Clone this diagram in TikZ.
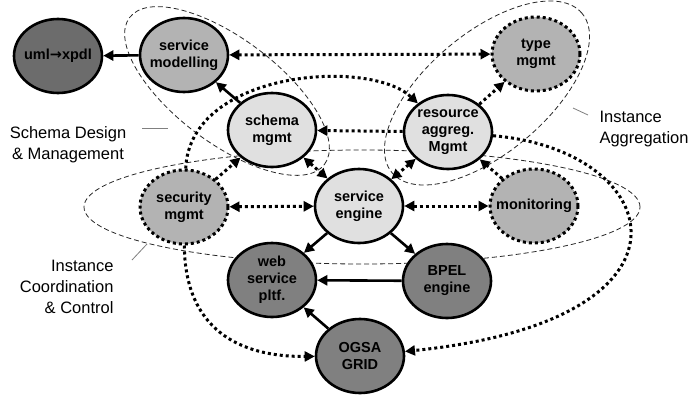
\documentclass[tikz,border=0pt]{standalone}
\usepackage{fontspec}
\setmainfont{Liberation Sans}
\newfontfamily\arrowfont{DejaVu Sans}
\usetikzlibrary{shapes.geometric,arrows.meta,backgrounds}
\definecolor{cDark}{HTML}{6C6C6C}
\definecolor{cMid}{HTML}{808080}
\definecolor{cLight}{HTML}{B3B3B3}
\definecolor{cPale}{HTML}{E0E0E0}
\begin{document}
\begin{tikzpicture}[x=1pt,y=-1pt,
  nd/.style={ellipse, minimum width=88pt, minimum height=74pt, inner xsep=-18pt, inner ysep=0pt,
    align=center, font=\fontsize{14.5}{17}\selectfont\bfseries},
  solidb/.style={nd, draw=black, line width=2.6pt},
  dotb/.style={nd, draw=black, line width=3pt, dash pattern=on 3pt off 3pt},
  sarr/.style={draw=black, line width=2.6pt, -{Triangle[length=10pt,width=10pt]}},
  darr/.style={draw=black, line width=3pt, dash pattern=on 3pt off 3pt, -{Triangle[length=10pt,width=10pt]}},
  ddarr/.style={draw=black, line width=3pt, dash pattern=on 3pt off 3pt, {Triangle[length=10pt,width=10pt]}-{Triangle[length=10pt,width=10pt]}},
  grp/.style={draw=black!85, line width=0.8pt, dash pattern=on 5pt off 3pt},
  lead/.style={draw=black!50, line width=0.8pt},
  lbl/.style={font=\fontsize{16.5}{21}\selectfont}
]
\useasboundingbox (0,0) rectangle (692,396);

% nodes
\node[solidb, fill=cDark]  (uml)    at (58,56)   {uml{\arrowfont\bfseries →}xpdl};
\node[solidb, fill=cLight] (sm)     at (184,55)  {service\\modelling};
\node[dotb,   fill=cLight] (type)   at (536,54)  {type\\mgmt};
\node[solidb, fill=cPale]  (schema) at (272,130) {schema\\mgmt};
\node[solidb, fill=cPale]  (res)    at (448,132) {resource\\aggreg.\\Mgmt};
\node[dotb,   fill=cLight] (sec)    at (184,207) {security\\mgmt};
\node[solidb, fill=cPale]  (eng)    at (359,206) {service\\engine};
\node[dotb,   fill=cLight] (mon)    at (534,206) {monitoring};
\node[solidb, fill=cMid]   (web)    at (272,280) {web\\service\\pltf.};
\node[solidb, fill=cMid]   (bpel)   at (447,281) {BPEL\\engine};
\node[solidb, fill=cMid]   (ogsa)   at (360,356) {OGSA\\GRID};

% labels
\node[lbl, align=center] (lsd) at (68,145) {Schema Design\\\& Management};
\node[lbl, align=left, anchor=west] (lia) at (596,129) {Instance\\Aggregation};
\node[lbl, align=right, anchor=east] (lic) at (117,287) {Instance\\Coordination\\\& Control};

% group outlines
\begin{scope}[on background layer]
  \fill[white] (0,0) rectangle (692,396);
  \draw[grp, rotate around={-37:(227,91)}] (227,91) ellipse [x radius=122pt, y radius=52pt];
  \draw[grp, rotate around={40:(487,93)}] (487,93) ellipse [x radius=124pt, y radius=60pt];
  \draw[grp] (362,207) ellipse [x radius=278pt, y radius=57pt];
\end{scope}

% leader lines
\coordinate (s1) at (142,128); \coordinate (s2) at (168,128);
\coordinate (a1) at (573,108); \coordinate (a2) at (588,115);
\coordinate (c1) at (132,260); \coordinate (c2) at (147,244);
\draw[lead] (s1) -- (s2);
\draw[lead] (a1) -- (a2);
\draw[lead] (c1) -- (c2);

% solid connectors
\draw[sarr] (sm) -- (uml);
\draw[sarr] (schema) -- (sm);
\draw[sarr] (eng) -- (web);
\draw[sarr] (eng) -- (bpel);
\draw[sarr] (bpel) -- (web);
\draw[sarr] (ogsa) -- (web);

% dotted connectors
\draw[ddarr] (sm) -- (type);
\draw[darr] (res) -- (schema);
\draw[ddarr] (schema) -- (eng);
\draw[darr] (sec) -- (schema);
\draw[ddarr] (res) -- (eng);
\draw[darr] (mon) -- (res);
\draw[darr] (res) -- (type);
\draw[ddarr] (sec) -- (eng);
\draw[ddarr] (eng) -- (mon);
\draw[darr] (sec) .. controls (190,70) and (370,58) .. (res);
\draw[darr] (res) .. controls (665,150) and (715,320) .. (ogsa);
\draw[darr] (sec) .. controls (185,330) and (240,357) .. (ogsa);
\end{tikzpicture}
\end{document}
